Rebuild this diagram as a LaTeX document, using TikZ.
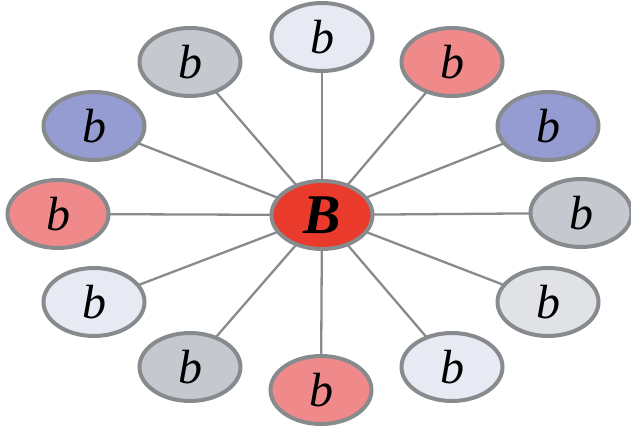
\documentclass[tikz,border=0pt]{standalone}
\usepackage{fontspec}
\setmainfont{Liberation Serif}
\usetikzlibrary{shapes.geometric,backgrounds}
\definecolor{cgray}{HTML}{C5C8CE}
\definecolor{clav}{HTML}{E7E9F3}
\definecolor{clight}{HTML}{E0E2E6}
\definecolor{cpink}{HTML}{F08A8A}
\definecolor{cblue}{HTML}{949CD1}
\definecolor{cred}{HTML}{E93A2B}
\definecolor{cborder}{HTML}{878B8E}
\tikzset{
  leaf/.style={ellipse, draw=cborder, line width=4pt, minimum width=101pt, minimum height=68pt, inner sep=0pt, text depth=0pt, font=\fontsize{48}{48}\selectfont\itshape},
  hub/.style={leaf, fill=cred, font=\fontsize{56}{56}\selectfont\bfseries\itshape},
  spoke/.style={draw=cborder, line width=2.3pt}
}
\begin{document}
\begin{tikzpicture}[x=1pt,y=1pt]
\useasboundingbox (0,0) rectangle (631,428);
\node[hub] (C) at (322,213) {B};
\node[leaf, fill=clav] (n1) at (322,391) {b};
\node[leaf, fill=cgray] (n2) at (190,366) {b};
\node[leaf, fill=cpink] (n3) at (452,366) {b};
\node[leaf, fill=cblue] (n4) at (94,302) {b};
\node[leaf, fill=cblue] (n5) at (548,302) {b};
\node[leaf, fill=cpink] (n6) at (58,214) {b};
\node[leaf, fill=cgray] (n7) at (581,215) {b};
\node[leaf, fill=clav] (n8) at (94,126) {b};
\node[leaf, fill=clight] (n9) at (548,126) {b};
\node[leaf, fill=cgray] (n10) at (190,61) {b};
\node[leaf, fill=clav] (n11) at (452,61) {b};
\node[leaf, fill=cpink] (n12) at (321,38) {b};
\begin{scope}[on background layer]
\foreach \i in {1,...,12} \draw[spoke] (C.center) -- (n\i.center);
\end{scope}
\end{tikzpicture}
\end{document}
